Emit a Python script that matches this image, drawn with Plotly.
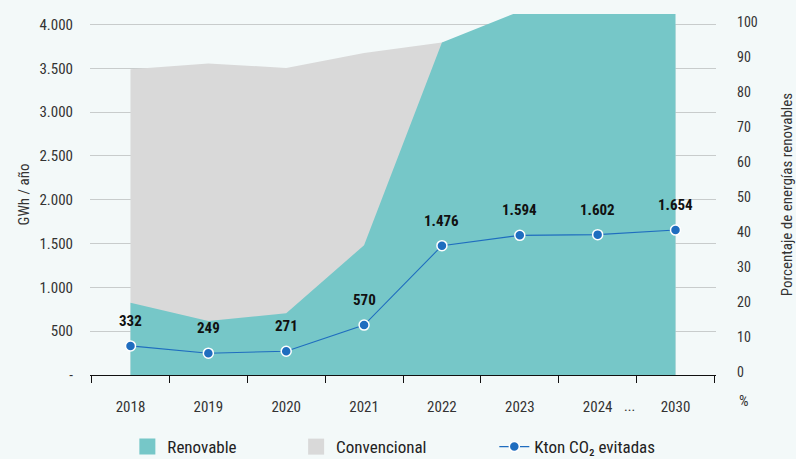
import plotly.graph_objects as go

years = ["2018", "2019", "2020", "2021", "2022", "2023", "2024", "2030"]
renovable = [824, 615, 706, 1481, 3795, 4150, 4150, 4150]
convencional = [3490, 3556, 3505, 3675, 3795, 3900, 3950, 4000]
kton_co2 = [332, 249, 271, 570, 1476, 1594, 1602, 1654]

left_ticks = [0, 500, 1000, 1500, 2000, 2500, 3000, 3500, 4000]
left_ticktext = ["-"] + [f"{v:,}".replace(",", ".") for v in left_ticks[1:]]
right_ticks = [0, 10, 20, 30, 40, 50, 60, 70, 80, 90, 100]

TEAL = "#76c7c8"
GREY = "#d9d9d9"
BLUE = "#1f6dbf"
BG = "#f3f9f9"
TXT = "#333333"
FONT = "Roboto Condensed, Liberation Sans Narrow, DejaVu Sans Condensed, Roboto, sans-serif"

fig = go.Figure()

fig.add_trace(go.Scatter(x=years, y=convencional, mode="lines", line=dict(width=0, color=GREY),
                         fill="tozeroy", fillcolor=GREY, showlegend=False, hoverinfo="skip"))
fig.add_trace(go.Scatter(x=years, y=renovable, mode="lines", line=dict(width=0, color=TEAL),
                         fill="tozeroy", fillcolor=TEAL, showlegend=False, hoverinfo="skip"))
fig.add_trace(go.Scatter(x=years, y=kton_co2, mode="lines+markers", name="Kton CO₂ evitadas",
                         line=dict(color=BLUE, width=1.1),
                         marker=dict(size=10, color=BLUE, line=dict(color="white", width=1.5)),
                         cliponaxis=False, legend="legend3"))

# legend proxies
fig.add_trace(go.Scatter(x=[None], y=[None], mode="markers", name="Renovable",
                         marker=dict(symbol="square", size=22, color=TEAL), legend="legend"))
fig.add_trace(go.Scatter(x=[None], y=[None], mode="markers", name="Convencional",
                         marker=dict(symbol="square", size=22, color=GREY), legend="legend2"))

# phantom trace for right axis
fig.add_trace(go.Scatter(x=[years[0]], y=[0], yaxis="y2", mode="markers",
                         marker=dict(opacity=0), showlegend=False, hoverinfo="skip"))

leg_common = dict(orientation="h", yref="container", xref="container", yanchor="middle", y=0.026,
                  bgcolor="rgba(0,0,0,0)", font=dict(size=17, color="#222222", family=FONT))

annotations = [
    dict(x=i, y=v, xref="x", yref="y", text=f"{v:,}".replace(",", "."), showarrow=False,
         yshift=25, font=dict(size=15, color="#111111", family=FONT, weight="bold"))
    for i, v in enumerate(kton_co2)
]
annotations += [
    dict(x=6.5, y=0, xref="x", yref="y", text="...", showarrow=False, yshift=-31, xshift=-7,
         font=dict(size=14, color=TXT)),
    dict(x=1, y=0, xref="paper", yref="y", text="%", showarrow=False, yshift=-26, xanchor="left",
         xshift=21, font=dict(size=15, color=TXT)),
]

fig.update_layout(
    width=796, height=459,
    margin=dict(l=90, r=80, t=14, b=84, autoexpand=False),
    paper_bgcolor=BG, plot_bgcolor=BG,
    separators=",.",
    font=dict(family=FONT, size=14, color=TXT),
    xaxis=dict(type="category", range=[-0.52, 7.52], showgrid=False, automargin=False,
               showline=True, linecolor="#111111", linewidth=1.2,
               ticks="outside", tickson="boundaries", ticklen=7, tickcolor="#111111",
               tickfont=dict(size=15, color=TXT), ticklabelstandoff=18),
    yaxis=dict(range=[0, 4120], tickvals=left_ticks, ticktext=left_ticktext, automargin=False,
               showgrid=True, gridcolor="#c8cccc", gridwidth=1, zeroline=False,
               tickfont=dict(size=15, color=TXT), ticklabelstandoff=16,
               title=dict(text="GWh / año", font=dict(size=15, color=TXT), standoff=6)),
    yaxis2=dict(overlaying="y", side="right", range=[-0.85, 102.3], tickvals=right_ticks,
                showgrid=False, zeroline=False, showline=False, automargin=False,
                tickfont=dict(size=14, color=TXT), ticklabelstandoff=20,
                title=dict(text="Porcentaje de energías renovables", font=dict(size=15, color=TXT),
                           standoff=26)),
    legend=dict(x=0.160, xanchor="left", **leg_common),
    legend2=dict(x=0.372, xanchor="left", **leg_common),
    legend3=dict(x=0.621, xanchor="left", **leg_common),
    annotations=annotations,
    showlegend=True,
)

fig.write_html("out.html")
